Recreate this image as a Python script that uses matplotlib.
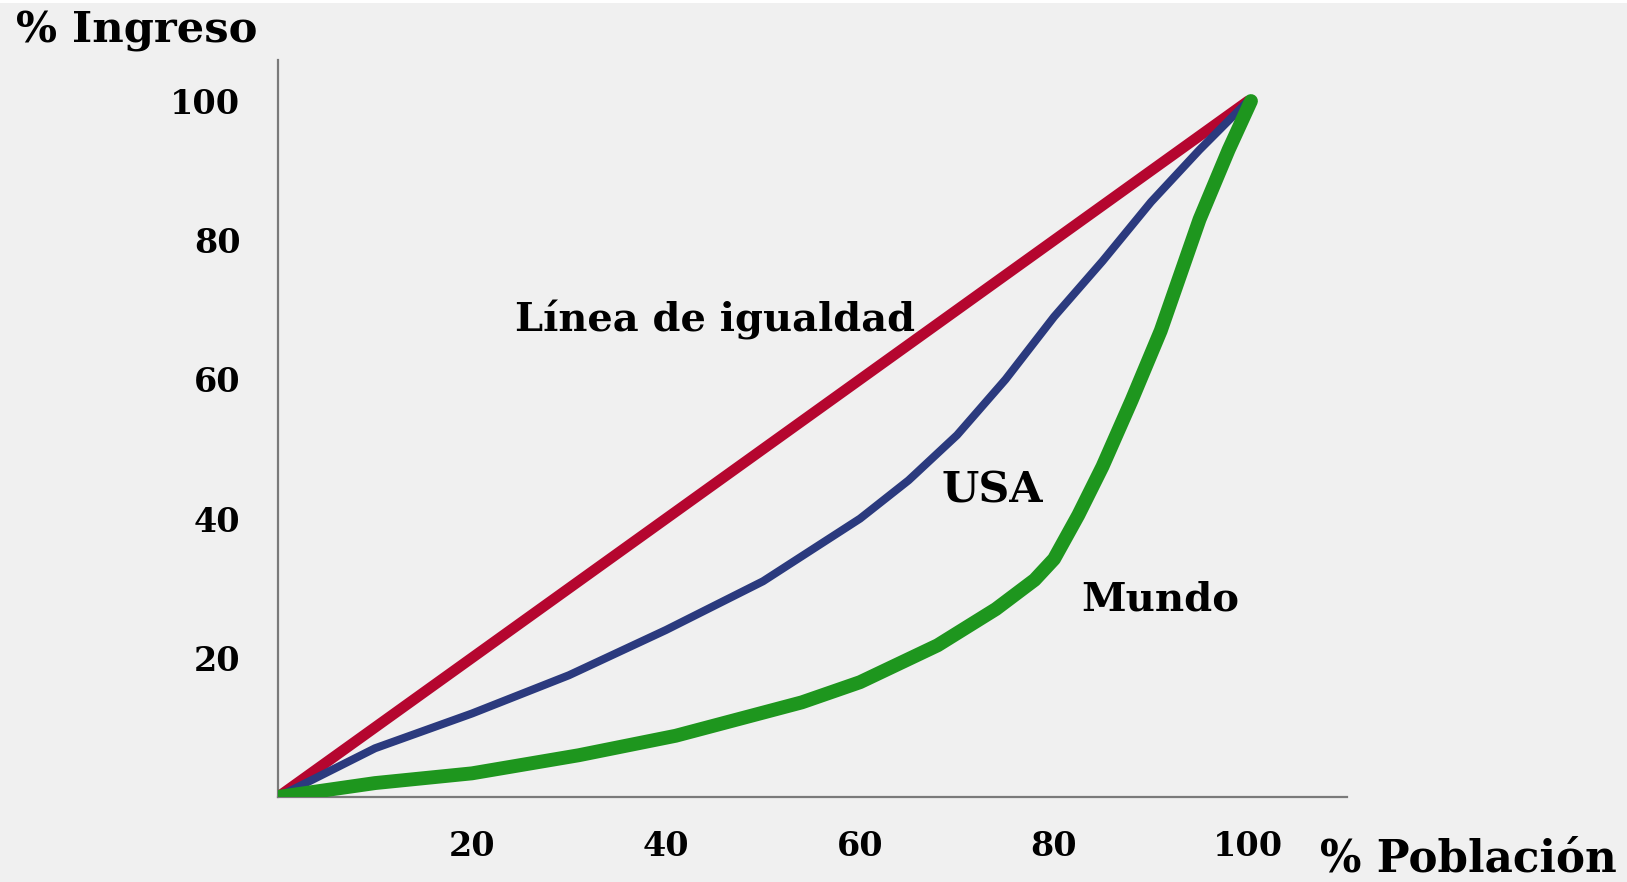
import matplotlib
matplotlib.use("Agg")
import matplotlib.pyplot as plt
from matplotlib.patches import Rectangle

# Data
equality_x = [0, 100]
equality_y = [0, 100]

usa_x = [0, 10, 20, 30, 40, 50, 60, 65, 70, 75, 80, 85, 90, 95, 100]
usa_y = [0, 7, 12, 17.5, 24, 31, 40, 45.5, 52, 60, 69, 77, 85.5, 93, 100]

world_x = [0, 10, 20, 31, 41, 54, 60, 68, 74, 78, 80, 82.5, 85, 88, 91, 95, 98, 100.3]
world_y = [0, 2, 3.4, 6, 8.8, 13.6, 16.5, 21.8, 27, 31.2, 34.2, 40.5, 47.5, 57, 67, 83, 93, 100]

x_ticks = [20, 40, 60, 80, 100]
y_ticks = [20, 40, 60, 80, 100]

labels = {"Línea de igualdad": (45.1, 68.5), "USA": (73.6, 44.0), "Mundo": (91.0, 28.4)}

BG = "#f0f0f0"
FONT = "DejaVu Serif"

fig = plt.figure(figsize=(16.27, 8.82), dpi=100, facecolor=BG)
fig.patches.append(Rectangle((0, 1 - 3 / 882), 1, 3 / 882, transform=fig.transFigure,
                             facecolor="white", edgecolor="none", zorder=0))
ax = fig.add_axes([278 / 1627, 1 - 797 / 882, (1347 - 278) / 1627, (797 - 60) / 882])
ax.set_facecolor(BG)

ax.plot(equality_x, equality_y, color="#b5062f", lw=7.8, solid_capstyle="round", zorder=3)
ax.plot(usa_x, usa_y, color="#2b3a7e", lw=5.8, solid_capstyle="round",
        solid_joinstyle="round", zorder=4)
ax.plot(world_x, world_y, color="#1e961e", lw=10.0, solid_capstyle="round",
        solid_joinstyle="round", zorder=5)

ax.set_xlim(0, 110.2)
ax.set_ylim(0, 105.9)

for s in ["top", "right"]:
    ax.spines[s].set_visible(False)
for s in ["left", "bottom"]:
    ax.spines[s].set_color("#7a7a7a")
    ax.spines[s].set_linewidth(1.6)

ax.set_xticks(x_ticks)
ax.set_yticks(y_ticks)
ax.set_xticklabels([str(v) for v in x_ticks])
ax.set_yticklabels([str(v) for v in y_ticks])
ax.tick_params(axis="both", length=0, labelsize=24)
ax.tick_params(axis="x", pad=24)
ax.tick_params(axis="y", pad=27)
for lab in ax.get_xticklabels() + ax.get_yticklabels():
    lab.set_fontfamily(FONT)
    lab.set_fontweight("bold")

texts = []
targets = []
for text, (x, y) in labels.items():
    t = ax.text(x, y, text, ha="center", va="center", fontsize=25, fontweight="bold",
                family=FONT, color="black", zorder=6)
    texts.append(t)
targets += [400, 101, 158]

t1 = fig.text(16 / 1627, 1 - 31 / 882, "% Ingreso", ha="left", va="center", fontsize=28,
              fontweight="bold", family=FONT)
t2 = fig.text(1617 / 1627, 1 - 859 / 882, "% Población", ha="right", va="center", fontsize=28,
              fontweight="bold", family=FONT)
texts += [t1, t2]
targets += [242, 297]

# fit font sizes to the widths measured on the reference
fig.canvas.draw()
r = fig.canvas.get_renderer()
for _ in range(2):
    for t, w in zip(texts, targets):
        cur = t.get_window_extent(r).width
        t.set_fontsize(t.get_fontsize() * w / cur)
    fig.canvas.draw()

fig.savefig("out.png", dpi=100, facecolor=BG)
